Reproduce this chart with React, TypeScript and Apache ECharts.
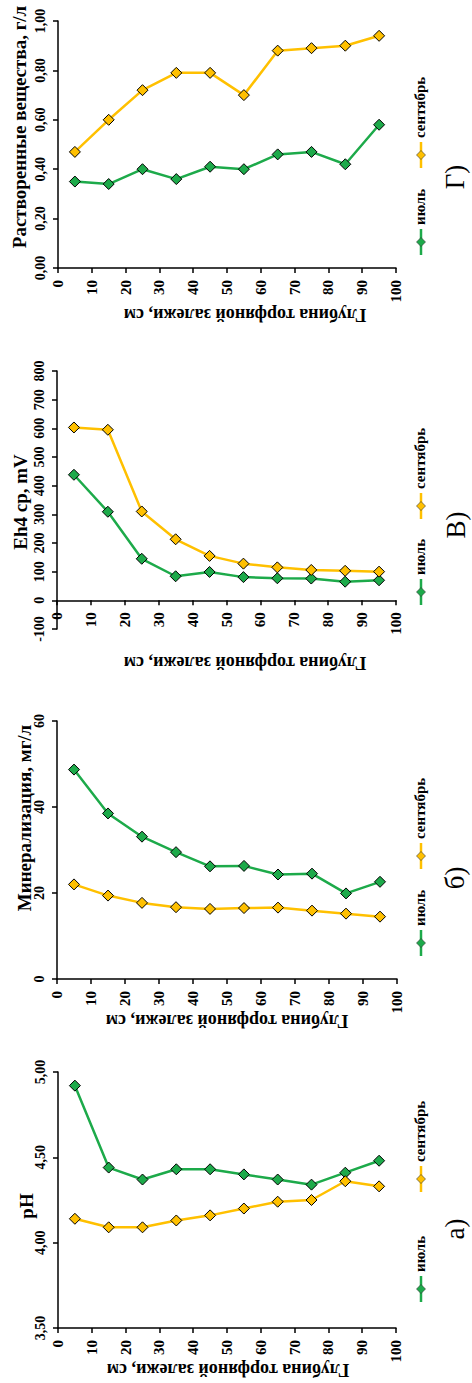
import React, { useEffect, useRef } from "react";
import * as echarts from "echarts";

// ---------- data ----------
const depth = [5, 15, 25, 35, 45, 55, 65, 75, 85, 95];
const xTicks = [0, 10, 20, 30, 40, 50, 60, 70, 80, 90, 100];

// Г) Растворенные вещества, г/л
const dsJuly = [0.35, 0.34, 0.40, 0.36, 0.41, 0.40, 0.46, 0.47, 0.42, 0.58];
const dsSept = [0.47, 0.60, 0.72, 0.79, 0.79, 0.70, 0.88, 0.89, 0.90, 0.94];
// В) Eh4 ср, mV
const ehJuly = [438, 309, 145, 84, 99, 81, 77, 76, 65, 70];
const ehSept = [603, 595, 310, 213, 155, 128, 115, 106, 103, 100];
// б) Минерализация, мг/л
const minJuly = [48.7, 38.5, 33.1, 29.5, 26.2, 26.3, 24.3, 24.5, 19.9, 22.6];
const minSept = [22.0, 19.4, 17.7, 16.7, 16.3, 16.5, 16.6, 15.9, 15.2, 14.5];
// а) pH
const phJuly = [4.92, 4.44, 4.37, 4.43, 4.43, 4.40, 4.37, 4.34, 4.41, 4.48];
const phSept = [4.14, 4.09, 4.09, 4.13, 4.16, 4.20, 4.24, 4.25, 4.36, 4.33];

const seriesNames = ["июль", "сентябрь"];
const xName = "Глубина торфяной залежи, см";
const yNames = ["Растворенные вещества, г/л", "Eh4 ср, mV", "Минерализация, мг/л", "pH"];
const panelLetters = ["Г)", "В)", "б)", "а)"];
const yMins = [0, -100, 0, 3.5];
const yMaxs = [1, 800, 60, 5];
const yIntervals = [0.2, 100, 20, 0.5];
const yDecimals = [2, 0, 0, 2];

// ---------- layout / style ----------
const FONT = "Liberation Serif";
const GREEN = "#1DAA4A";
const GOLD = "#FFC000";

const grids = [
  { left: 58, top: 21, width: 338, height: 247 },
  { left: 57, top: 371, width: 339, height: 258 },
  { left: 57, top: 721, width: 340, height: 258 },
  { left: 58, top: 1072, width: 338, height: 256 },
];
const yNamePos = [
  [19, 127],
  [20, 502],
  [24, 818],
  [26, 1206],
];
const xNamePos = [
  [245, 315],
  [245, 663],
  [227, 1021],
  [228, 1370],
];
// legend: [x, julyMarkerY, septMarkerY]
const legendPos = [
  [421, 242, 155],
  [421, 592, 506],
  [421, 943, 856],
  [421, 1289, 1179],
];
const letterPos = [
  [455, 177],
  [456, 525],
  [455, 878],
  [455, 1229],
];

const panelData = [
  [dsJuly, dsSept],
  [ehJuly, ehSept],
  [minJuly, minSept],
  [phJuly, phSept],
];

function diamond(cx: number, cy: number, r: number, fill: string) {
  return {
    type: "polygon",
    shape: {
      points: [
        [cx, cy - r],
        [cx + r, cy],
        [cx, cy + r],
        [cx - r, cy],
      ],
    },
    style: { fill, stroke: "#333", lineWidth: 0.6 },
    z: 10,
  };
}

function rotText(text: string, x: number, y: number, rotation: number, font: string, align: string) {
  return {
    type: "text",
    x,
    y,
    rotation,
    z: 10,
    style: {
      text,
      font,
      fill: "#000",
      align,
      verticalAlign: "middle",
      textAlign: align,
      textVerticalAlign: "middle",
    },
  };
}

export default function App() {
  const ref = useRef<HTMLDivElement>(null);

  useEffect(() => {
    if (!ref.current) return;
    const chart = echarts.init(ref.current, undefined, { renderer: "svg" });

    const xAxis: any[] = [];
    const yAxis: any[] = [];
    const series: any[] = [];
    const graphic: any[] = [];

    grids.forEach((g, i) => {
      // x axis crosses the value axis at 0 when the range includes negatives
      const zeroOffset =
        yMins[i] < 0 ? -(g.height * (0 - yMins[i])) / (yMaxs[i] - yMins[i]) : 0;
      xAxis.push({
        type: "value",
        gridIndex: i,
        min: xTicks[0],
        max: xTicks[xTicks.length - 1],
        interval: xTicks[1] - xTicks[0],
        offset: zeroOffset,
        axisLine: { show: true, onZero: false, lineStyle: { color: "#000", width: 1.5 } },
        axisTick: { show: true, length: 5, lineStyle: { color: "#000", width: 1.5 } },
        axisLabel: {
          rotate: 90,
          margin: 12,
          fontFamily: FONT,
          fontWeight: "bold",
          fontSize: 15,
          color: "#000",
          showMinLabel: true,
          showMaxLabel: true,
        },
        splitLine: { show: false },
      });
      const dec = yDecimals[i];
      yAxis.push({
        type: "value",
        gridIndex: i,
        min: yMins[i],
        max: yMaxs[i],
        interval: yIntervals[i],
        axisLine: { show: true, lineStyle: { color: "#000", width: 1.5 } },
        axisTick: { show: true, length: 5, lineStyle: { color: "#000", width: 1.5 } },
        axisLabel: {
          rotate: 90,
          margin: 11,
          fontFamily: FONT,
          fontWeight: "bold",
          fontSize: 14,
          color: "#000",
          showMinLabel: true,
          showMaxLabel: true,
          formatter: (v: number) => v.toFixed(dec).replace(".", ","),
        },
        splitLine: { show: false },
      });
      const [july, sept] = panelData[i];
      [july, sept].forEach((vals, k) => {
        const color = k === 0 ? GREEN : GOLD;
        series.push({
          name: seriesNames[k],
          type: "line",
          xAxisIndex: i,
          yAxisIndex: i,
          data: depth.map((d, j) => [d, vals[j]]),
          symbol: "diamond",
          symbolSize: 11,
          showSymbol: true,
          lineStyle: { color, width: 2.5 },
          itemStyle: { color, borderColor: "#000", borderWidth: 1 },
          z: 3 + k,
        });
      });

      // axis names
      graphic.push(
        rotText(yNames[i], yNamePos[i][0], yNamePos[i][1], Math.PI / 2, `bold 19px ${FONT}`, "center")
      );
      graphic.push(
        rotText(xName, xNamePos[i][0], xNamePos[i][1], Math.PI, `bold 18px ${FONT}`, "center")
      );
      // legend
      const [lx, yJ, yS] = legendPos[i];
      [yJ, yS].forEach((my, k) => {
        const color = k === 0 ? GREEN : GOLD;
        graphic.push({
          type: "line",
          shape: { x1: lx, y1: my - 13, x2: lx, y2: my + 13 },
          style: { stroke: color, lineWidth: 2.5 },
          z: 9,
        });
        graphic.push(diamond(lx, my, 4.5, color));
        graphic.push(
          rotText(seriesNames[k], lx - 1, my - 17, Math.PI / 2, `bold 15px ${FONT}`, "left")
        );
      });
      // panel letter
      graphic.push(
        rotText(panelLetters[i], letterPos[i][0], letterPos[i][1], Math.PI / 2, `27px ${FONT}`, "center")
      );
    });

    chart.setOption({
      animation: false,
      backgroundColor: "#fff",
      grid: grids.map((g) => ({ ...g, containLabel: false })),
      xAxis,
      yAxis,
      series,
      graphic,
    });

    return () => chart.dispose();
  }, []);

  return (
    <div
      ref={ref}
      style={{ position: "absolute", left: 0, top: 0, width: 472, height: 1383, background: "#fff" }}
    />
  );
}
